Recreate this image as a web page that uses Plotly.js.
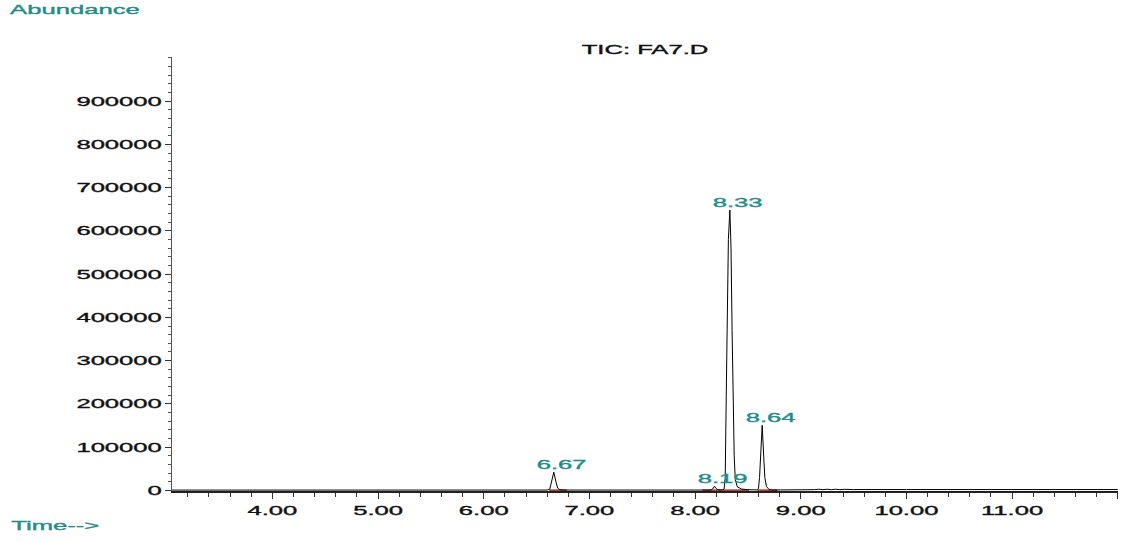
<!DOCTYPE html>
<html>
<head>
<meta charset="utf-8">
<script src="https://cdn.plot.ly/plotly-3.0.1.min.js"></script>
<style>
  html, body { margin: 0; padding: 0; background: #fff; }
  #chart { width: 1126px; height: 542px; }
</style>
</head>
<body>
<div id="chart"></div>
<script>
// ---- Data ----
const timeMin = [3.05, 6.00, 6.60, 6.625, 6.64, 6.663, 6.685, 6.70, 6.72, 6.76,
  8.10, 8.15, 8.165, 8.184, 8.20, 8.215, 8.24, 8.26, 8.275, 8.285, 8.295, 8.305, 8.315, 8.329,
  8.34, 8.35, 8.36, 8.37, 8.38, 8.40, 8.44, 8.50, 8.59, 8.60, 8.61, 8.62, 8.635, 8.65, 8.66,
  8.675, 8.70, 8.73, 9.00, 9.10, 9.13, 9.17, 9.21, 9.25, 9.29, 9.33, 9.37, 9.41, 9.45, 9.50,
  10.00, 10.70, 11.00, 11.62, 11.66, 11.70, 11.74, 11.78, 12.00];
const abundance = [600, 600, 700, 3000, 18000, 42000, 18000, 5000, 1500, 700,
  700, 800, 3000, 9500, 4000, 1500, 1200, 1100, 3000, 30000, 220000, 420000, 580000, 648000,
  560000, 370000, 200000, 80000, 25000, 8000, 3000, 1500, 1000, 5000, 30000, 80000, 150500, 75000, 30000,
  9000, 2000, 800, 800, 2500, 1600, 2600, 1600, 2600, 1600, 2600, 1600, 2400, 1500, 1800,
  1800, 2000, 1800, 1800, 3200, 2400, 3200, 1800, 1800];

// retention-time labels of the integrated peaks
const peakLabels = ['6.67', '8.19', '8.33', '8.64'];
const peakTimes = [6.663, 8.184, 8.329, 8.635];
const peakHeights = [42000, 9500, 648000, 150500];

// integration baselines (start, end) in minutes
const intStart = [6.62, 8.07, 8.26, 8.59];
const intEnd = [6.785, 8.26, 8.51, 8.78];

const xTickVals = [4, 5, 6, 7, 8, 9, 10, 11, 12];
const xTickText = ['4.00', '5.00', '6.00', '7.00', '8.00', '9.00', '10.00', '11.00', ''];
const yTickVals = [0, 100000, 200000, 300000, 400000, 500000, 600000, 700000, 800000, 900000];
const yTickText = ['0', '100000', '200000', '300000', '400000', '500000', '600000', '700000', '800000', '900000'];

// ---- Layout helpers ----
const W = 1126, H = 542;
const M = { l: 172, r: 8, t: 57, b: 51 };
const PW = W - M.l - M.r, PH = H - M.t - M.b;
const px2x = px => (px - M.l) / PW;
const py2y = py => (H - M.b - py) / PH;

const TEAL = '#1e8c8c';
const FONT = 'Liberation Sans, Arial, Helvetica, sans-serif';

// integration segments built from start/end arrays
const segX = [], segY = [];
intStart.forEach((s, i) => { segX.push(s, intEnd[i], null); segY.push(0, 0, null); });

const traces = [
  { x: segX, y: segY, mode: 'lines', line: { color: '#b03a3a', width: 2 }, hoverinfo: 'skip', showlegend: false },
  { x: timeMin, y: abundance, mode: 'lines', line: { color: '#000', width: 1 }, showlegend: false }
];

const annotations = peakLabels.map((t, i) => ({
  x: peakTimes[i], y: peakHeights[i], xref: 'x', yref: 'y', text: t, showarrow: false,
  xanchor: 'center', yanchor: 'bottom', xshift: 8, yshift: -2,
  font: { family: FONT, size: 13, color: TEAL }
}));
annotations.push({
  x: px2x(75), y: py2y(9), xref: 'paper', yref: 'paper', text: 'Abundance', showarrow: false,
  xanchor: 'center', yanchor: 'middle', font: { family: FONT, size: 13, color: TEAL }
});
annotations.push({
  x: px2x(55), y: py2y(525), xref: 'paper', yref: 'paper', text: 'Time-->', showarrow: false,
  xanchor: 'center', yanchor: 'middle', font: { family: FONT, size: 13, color: TEAL }
});

const layout = {
  width: W, height: H,
  margin: M,
  paper_bgcolor: '#fff', plot_bgcolor: '#fff',
  font: { family: FONT, size: 13, color: '#111' },
  title: { text: 'TIC: FA7.D', x: 0.5, xref: 'paper', xanchor: 'center',
           y: 1 - 49 / H, yref: 'container', yanchor: 'middle',
           font: { family: FONT, size: 13, color: '#111' } },
  xaxis: {
    range: [3.05, 12.002], autorange: false, showgrid: false, zeroline: false,
    showline: true, linecolor: '#222', linewidth: 2, layer: 'below traces',
    tickmode: 'array', tickvals: xTickVals, ticktext: xTickText,
    ticks: 'outside', ticklen: 6, tickwidth: 1, tickcolor: '#333',
    minor: { dtick: 0.2, tick0: 0, ticks: 'outside', ticklen: 4, tickwidth: 1, tickcolor: '#333', showgrid: false },
    tickfont: { family: FONT, size: 13, color: '#111' },
    fixedrange: true
  },
  yaxis: {
    range: [-1500, 1002000], autorange: false, showgrid: false, zeroline: false,
    showline: true, linecolor: '#555', linewidth: 1.5, layer: 'below traces',
    tickmode: 'array', tickvals: yTickVals, ticktext: yTickText,
    ticks: 'outside', ticklen: 6, tickwidth: 1, tickcolor: '#333',
    minor: { dtick: 20000, tick0: 0, ticks: 'outside', ticklen: 3, tickwidth: 1, tickcolor: '#555', showgrid: false },
    tickfont: { family: FONT, size: 13, color: '#111' },
    fixedrange: true
  },
  annotations: annotations,
  showlegend: false
};

// the original printout has horizontally widened, heavier lettering
function widenText(gd) {
  gd.querySelectorAll('svg text').forEach(t => {
    if (t.getAttribute('data-wide')) return;
    const len = t.getComputedTextLength();
    if (len > 0) {
      t.setAttribute('textLength', (len * 1.97).toFixed(1));
      t.setAttribute('lengthAdjust', 'spacingAndGlyphs');
      const fill = getComputedStyle(t).fill;
      t.style.stroke = fill;
      t.style.strokeWidth = '0.35px';
      t.setAttribute('data-wide', '1');
    }
  });
}

Plotly.newPlot('chart', traces, layout, { displayModeBar: false, staticPlot: true })
  .then(gd => widenText(gd));
</script>
</body>
</html>
